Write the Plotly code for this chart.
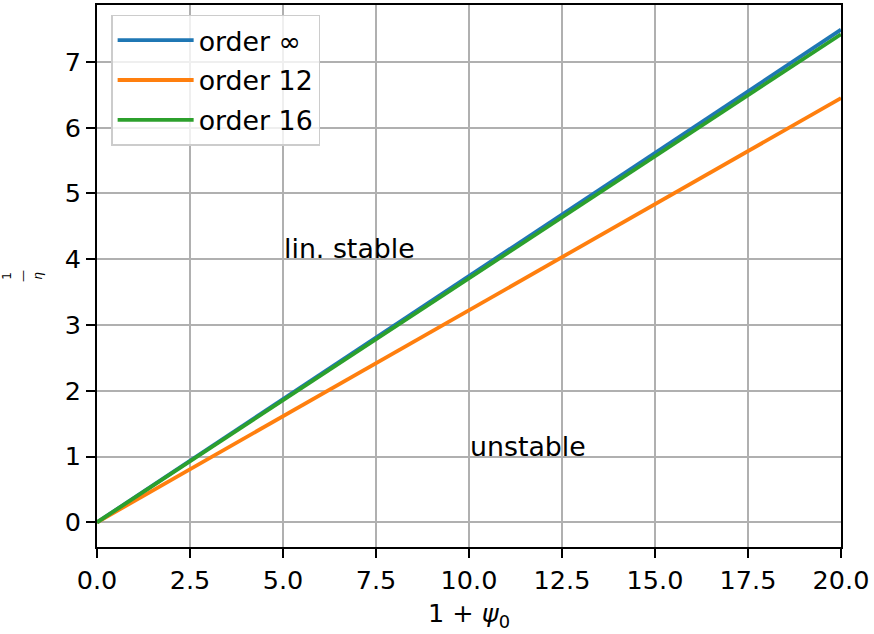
import plotly.graph_objects as go

# data (straight lines through origin)
x_vals = [0.0, 5.0, 10.0, 15.0, 20.0]
order_inf = [0.0, 1.87, 3.745, 5.62, 7.49]
order_12 = [0.0, 1.61, 3.225, 4.84, 6.45]
order_16 = [0.0, 1.855, 3.71, 5.565, 7.42]

x_ticks = [0, 2.5, 5, 7.5, 10, 12.5, 15, 17.5, 20]
x_tick_text = ["0.0", "2.5", "5.0", "7.5", "10.0", "12.5", "15.0", "17.5", "20.0"]
y_ticks = [0, 1, 2, 3, 4, 5, 6, 7]

FONT = "DejaVu Sans"
FS = 25.5
FS_TXT = 26.8

fig = go.Figure()
fig.add_trace(go.Scatter(x=x_vals, y=order_inf, mode="lines", name="order ∞", legendgroup="a",
                         line=dict(color="#1f77b4", width=3.8)))
fig.add_trace(go.Scatter(x=x_vals, y=order_12, mode="lines", name="order 12", legendgroup="b",
                         line=dict(color="#ff7f0e", width=3.8)))
fig.add_trace(go.Scatter(x=x_vals, y=order_16, mode="lines", name="order 16", legendgroup="c",
                         line=dict(color="#2ca02c", width=3.8)))

fig.add_annotation(x=5, y=4, xref="x", yref="y", text="lin. stable", showarrow=False,
                   xanchor="left", yanchor="bottom", yshift=-7, xshift=-1,
                   font=dict(family=FONT, size=FS_TXT, color="black"))
fig.add_annotation(x=10, y=1, xref="x", yref="y", text="unstable", showarrow=False,
                   xanchor="left", yanchor="bottom", yshift=-7, xshift=-1,
                   font=dict(family=FONT, size=FS_TXT, color="black"))

axis_common = dict(showline=True, linecolor="black", linewidth=2, mirror=True,
                   ticks="outside", ticklen=9, tickwidth=2, tickcolor="black",
                   showgrid=True, gridcolor="#b0b0b0", gridwidth=2, zeroline=False,
                   automargin=False,
                   tickfont=dict(family=FONT, size=FS, color="black"))

fig.update_xaxes(range=[0, 20], tickvals=x_ticks, ticktext=x_tick_text,
                 title=dict(text="1 + <i>ψ</i><sub>0</sub>", font=dict(family=FONT, size=FS, color="black"),
                            standoff=11),
                 **axis_common)
fig.update_yaxes(range=[-0.375, 7.865], tickvals=y_ticks,
                 title=dict(text="1<br>—<br><i>η</i>", font=dict(family=FONT, size=12, color="black"),
                            standoff=22),
                 **axis_common)

fig.update_layout(
    width=874, height=634,
    margin=dict(l=97, r=33, t=5, b=87),
    plot_bgcolor="white", paper_bgcolor="white",
    font=dict(family=FONT, size=FS, color="black"),
    legend=dict(x=0.019, y=0.982, xanchor="left", yanchor="top",
                bgcolor="rgba(255,255,255,0.8)", bordercolor="#cccccc", borderwidth=1.5,
                font=dict(family=FONT, size=FS_TXT, color="black"),
                itemwidth=76, tracegroupgap=2),
    showlegend=True,
)

fig.write_html("out.html")
